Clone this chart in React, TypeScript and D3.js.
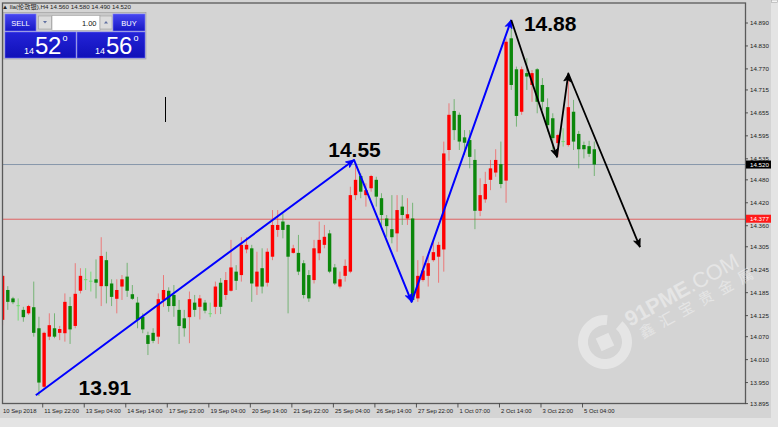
import React, { useEffect } from 'react';
import * as d3 from 'd3';

// ---- Data (London silver, H4) ----
const OPEN = [14.114,14.192,14.170,14.151,14.140,14.131,14.147,14.092,13.939,14.070,14.092,14.080,14.079,14.150,14.098,14.190,14.219,14.215,14.220,14.202,14.270,14.209,14.169,14.201,14.227,14.181,14.159,14.122,14.074,14.080,14.070,14.166,14.190,14.179,14.140,14.118,14.121,14.159,14.148,14.159,14.130,14.148,14.211,14.179,14.190,14.240,14.231,14.298,14.301,14.201,14.249,14.211,14.279,14.349,14.371,14.362,14.289,14.289,14.262,14.231,14.218,14.288,14.310,14.340,14.251,14.201,14.229,14.240,14.440,14.490,14.440,14.458,14.480,14.432,14.379,14.351,14.340,14.410,14.379,14.379,14.170,14.218,14.229,14.270,14.279,14.298,14.558,14.660,14.650,14.591,14.584,14.532,14.399,14.429,14.480,14.499,14.521,14.478,14.850,14.769,14.658,14.759,14.728,14.769,14.728,14.670,14.641,14.576,14.580,14.571,14.658,14.600,14.571,14.568,14.560];
const HIGH = [14.231,14.202,14.174,14.170,14.148,14.153,14.214,14.122,14.083,14.131,14.131,14.098,14.183,14.174,14.262,14.249,14.249,14.240,14.272,14.330,14.292,14.220,14.220,14.231,14.263,14.205,14.174,14.131,14.083,14.092,14.183,14.231,14.199,14.205,14.166,14.140,14.188,14.179,14.179,14.166,14.159,14.214,14.223,14.239,14.323,14.257,14.330,14.330,14.310,14.292,14.301,14.301,14.401,14.401,14.392,14.364,14.310,14.336,14.270,14.244,14.323,14.371,14.362,14.349,14.260,14.240,14.272,14.462,14.523,14.497,14.471,14.493,14.488,14.445,14.388,14.440,14.440,14.440,14.432,14.420,14.270,14.281,14.281,14.318,14.318,14.580,14.680,14.691,14.656,14.610,14.610,14.560,14.484,14.501,14.532,14.560,14.580,14.850,14.884,14.776,14.776,14.798,14.767,14.772,14.746,14.693,14.654,14.600,14.615,14.754,14.689,14.608,14.580,14.582,14.580];
const LOW = [14.100,14.140,14.155,14.112,14.109,14.127,14.070,13.915,13.935,14.061,14.066,14.061,14.057,14.051,14.092,14.183,14.192,14.188,14.170,14.150,14.157,14.150,14.131,14.166,14.174,14.166,14.092,14.079,14.022,14.053,14.051,14.148,14.135,14.122,14.051,14.070,14.053,14.122,14.115,14.131,14.121,14.129,14.129,14.166,14.188,14.192,14.214,14.288,14.161,14.179,14.183,14.201,14.270,14.331,14.327,14.131,14.287,14.231,14.170,14.161,14.209,14.270,14.301,14.236,14.205,14.196,14.214,14.236,14.427,14.432,14.410,14.449,14.410,14.353,14.331,14.314,14.292,14.362,14.362,14.161,14.161,14.214,14.201,14.266,14.211,14.240,14.530,14.584,14.558,14.545,14.510,14.351,14.385,14.420,14.453,14.488,14.458,14.420,14.715,14.619,14.650,14.715,14.684,14.654,14.663,14.606,14.558,14.540,14.567,14.567,14.558,14.510,14.536,14.540,14.490];
const CLOSE = [14.229,14.161,14.160,14.150,14.121,14.150,14.080,13.950,14.080,14.100,14.070,14.090,14.161,14.089,14.182,14.229,14.218,14.214,14.211,14.281,14.202,14.174,14.192,14.220,14.190,14.169,14.114,14.089,14.051,14.059,14.168,14.192,14.150,14.150,14.098,14.092,14.168,14.140,14.170,14.138,14.129,14.201,14.148,14.218,14.251,14.216,14.310,14.310,14.209,14.240,14.201,14.292,14.362,14.362,14.349,14.279,14.301,14.240,14.179,14.170,14.301,14.323,14.331,14.240,14.209,14.220,14.255,14.440,14.480,14.449,14.453,14.490,14.436,14.388,14.359,14.330,14.401,14.388,14.390,14.166,14.229,14.243,14.262,14.291,14.310,14.549,14.650,14.610,14.580,14.577,14.540,14.399,14.440,14.469,14.510,14.532,14.469,14.841,14.728,14.647,14.769,14.750,14.759,14.684,14.684,14.623,14.589,14.597,14.579,14.670,14.580,14.560,14.560,14.548,14.520];

const PRICE_LABELS = ['14.890','14.830','14.770','14.715','14.655','14.595','14.535','14.480','14.420','14.360','14.305','14.245','14.185','14.125','14.070','14.010','13.950','13.895'];
const TIME_LABELS = ['10 Sep 2018','11 Sep 22:00','13 Sep 04:00','14 Sep 14:00','17 Sep 23:00','19 Sep 04:00','20 Sep 14:00','21 Sep 22:00','25 Sep 04:00','26 Sep 14:00','27 Sep 22:00','1 Oct 07:00','2 Oct 14:00','3 Oct 22:00','5 Oct 04:00'];
const TIME_LABEL_BARS = [0,8,16,24,32,40,48,56,64,72,80,88,96,104,112];

const CURRENT_PRICE = 14.520;
const LEVEL_PRICE = 14.377;
const HEADER = '▲ lla(伦敦银),H4  14.560 14.580 14.490 14.520';

// annotation waves: [bar, price]
const BLUE_WAVE: [number, number][] = [[6.4, 13.917], [67.7, 14.532], [78.8, 14.161], [98.0, 14.898]];
const BLACK_WAVE: [number, number][] = [[98.0, 14.898], [106.8, 14.540], [109.0, 14.758], [122.8, 14.304]];
const WAVE_LABELS = [
  { text: '13.91', bar: 19.7, price: 13.918 },
  { text: '14.55', bar: 67.8, price: 14.539 },
  { text: '14.88', bar: 105.5, price: 14.870 },
];

const W = 778, H = 427;
const FL = 2.5, FR = 745.5, FT = 3, FB = 403.5;

function Arrow({ pts, color, sw }: { pts: [number, number][]; color: string; sw: number }) {
  const path = d3.line()(pts) as string;
  const heads = [] as JSX.Element[];
  for (let k = 1; k < pts.length; k++) {
    const [x0, y0] = pts[k - 1];
    const [x1, y1] = pts[k];
    const ang = Math.atan2(y1 - y0, x1 - x0) * 180 / Math.PI;
    heads.push(
      <path key={k} d="M0,0 L-8,-3.5 L-6,0 L-8,3.5 Z" fill={color} stroke={color} strokeWidth={0.8}
        transform={`translate(${x1},${y1}) rotate(${ang})`} />
    );
  }
  return (
    <g>
      <path d={path} fill="none" stroke={color} strokeWidth={sw} strokeLinejoin="round" />
      {heads}
    </g>
  );
}

export default function App() {
  useEffect(() => { document.body.style.margin = '0'; }, []);
  const n = OPEN.length;
  const x = d3.scaleLinear().domain([0, n - 1]).range([2.6, 594.3]);
  const y = d3.scaleLinear().domain([13.895, 14.890]).range([403.6, 23]);
  const bw = 3.4;
  const font = "'Liberation Sans', Arial, sans-serif";

  const candles = d3.range(n).map((i) => {
    const o = OPEN[i], c = CLOSE[i], h = HIGH[i], l = LOW[i];
    const cx = x(i);
    const doji = Math.abs(o - c) <= 0.0015;
    const up = c > o;
    const col = doji ? '#6fdc6f' : up ? '#ff0000' : '#0b870b';
    const wickCol = doji ? '#6fdc6f' : up ? '#ff3030' : '#2a9a2a';
    const top = y(Math.max(o, c)), bot = y(Math.min(o, c));
    return (
      <g key={i}>
        <line x1={cx} x2={cx} y1={y(h)} y2={y(l)} stroke={wickCol} strokeWidth={1} opacity={doji ? 0.9 : 0.55} />
        {doji ? (
          <line x1={cx - bw / 2} x2={cx + bw / 2} y1={y(o)} y2={y(o)} stroke={col} strokeWidth={1} />
        ) : (
          <rect x={cx - bw / 2} y={top} width={bw} height={Math.max(1, bot - top)} fill={col} />
        )}
      </g>
    );
  });

  const bluePts = BLUE_WAVE.map(([b, p]) => [x(b), y(p)] as [number, number]);
  const blackPts = BLACK_WAVE.map(([b, p]) => [x(b), y(p)] as [number, number]);

  return (
    <div style={{ position: 'absolute', left: 0, top: 0 }}>
      <svg width={W} height={H} style={{ display: 'block' }} fontFamily={font}>
        <defs>
          <clipPath id="plot"><rect x={FL} y={FT} width={FR - FL} height={FB - FT} /></clipPath>
          <linearGradient id="btn" x1="0" y1="0" x2="0" y2="1">
            <stop offset="0" stopColor="#4646f0" />
            <stop offset="1" stopColor="#1717c4" />
          </linearGradient>
          <linearGradient id="big" x1="0" y1="0" x2="0" y2="1">
            <stop offset="0" stopColor="#2424d8" />
            <stop offset="1" stopColor="#1010b8" />
          </linearGradient>
        </defs>
        <rect x={0} y={0} width={W} height={H} fill="#e4e4e4" />
        <rect x={0} y={0} width={771} height={418} fill="#d4d4d4" />
        <rect x={771.5} y={0} width={6} height={2.5} fill="#f4f4f4" stroke="#999" strokeWidth={0.5} />

        {/* horizontal levels */}
        <line x1={FL} x2={FR} y1={y(CURRENT_PRICE)} y2={y(CURRENT_PRICE)} stroke="#8797aa" strokeWidth={1} />
        <line x1={FL} x2={FR} y1={y(LEVEL_PRICE)} y2={y(LEVEL_PRICE)} stroke="#e06262" strokeWidth={1} />

        <g clipPath="url(#plot)">{candles}</g>

        {/* frame */}
        <rect x={FL} y={FT} width={FR - FL} height={FB - FT} fill="none" stroke="#5a5a5a" strokeWidth={1.3} />

        {/* price axis */}
        {PRICE_LABELS.map((t) => {
          const yy = y(+t);
          return (
            <g key={t}>
              <line x1={FR} x2={FR + 2.5} y1={yy} y2={yy} stroke="#333" strokeWidth={0.8} />
              <text x={750} y={yy + 2} fontSize={6.2} fill="#222">{t}</text>
            </g>
          );
        })}
        <rect x={FR + 0.5} y={y(CURRENT_PRICE) - 4} width={25} height={8} fill="#000" />
        <text x={750} y={y(CURRENT_PRICE) + 2.2} fontSize={6.2} fill="#fff">{CURRENT_PRICE.toFixed(3)}</text>
        <rect x={FR + 0.5} y={y(LEVEL_PRICE) - 4.5} width={25} height={8} fill="#ff1a1a" />
        <text x={750} y={y(LEVEL_PRICE) + 1.8} fontSize={6.2} fill="#fff">{LEVEL_PRICE.toFixed(3)}</text>

        {/* time axis */}
        {TIME_LABELS.map((t, k) => {
          const xx = x(TIME_LABEL_BARS[k]) - 1.4;
          return (
            <g key={t}>
              {k > 0 && <line x1={xx} x2={xx} y1={FB} y2={FB + 4} stroke="#333" strokeWidth={0.8} />}
              <text x={k === 0 ? 3 : xx + 1.6} y={413} fontSize={5.9} fill="#222">{t}</text>
            </g>
          );
        })}

        {/* header */}
        <text x={2} y={9} fontSize={6.2} fill="#222" fontFamily="'Liberation Sans', 'Noto Sans CJK SC', sans-serif">{HEADER}</text>

        {/* one-click trading panel */}
        <rect x={3.5} y={12.5} width={142.5} height={46.5} fill="#c9c9c9" stroke="#9a9a9a" strokeWidth={0.6} />
        <rect x={5} y={14} width={31} height={17} fill="url(#btn)" stroke="#7b7bff" strokeWidth={0.6} />
        <text x={20.5} y={25.5} fontSize={7.5} fill="#fff" textAnchor="middle">SELL</text>
        <rect x={38.5} y={16} width={13} height={13} fill="#dcdcdc" stroke="#a0a0a0" strokeWidth={0.6} />
        <path d="M43,21 L47,21 L45,23.5 Z" fill="#6070a0" />
        <rect x={52} y={15.5} width={48} height={15} fill="#ffffff" stroke="#a0a0a0" strokeWidth={0.6} />
        <text x={96.5} y={26} fontSize={7.5} fill="#111" textAnchor="end">1.00</text>
        <rect x={100} y={16} width={12} height={13} fill="#dcdcdc" stroke="#a0a0a0" strokeWidth={0.6} />
        <path d="M104,23.5 L108,23.5 L106,21 Z" fill="#6070a0" />
        <rect x={113} y={14} width={32} height={17} fill="url(#btn)" stroke="#7b7bff" strokeWidth={0.6} />
        <text x={129} y={25.5} fontSize={7.5} fill="#fff" textAnchor="middle">BUY</text>
        <rect x={5} y={32} width={71} height={26} fill="url(#big)" stroke="#6a6aff" strokeWidth={0.6} />
        <rect x={77} y={32} width={68} height={26} fill="url(#big)" stroke="#6a6aff" strokeWidth={0.6} />
        <text x={24} y={53.5} fontSize={9} fill="#fff">14</text>
        <text x={35} y={54} fontSize={24} fill="#fff" letterSpacing={-0.3}>52</text>
        <text x={62.5} y={41} fontSize={9} fill="#fff">o</text>
        <text x={95} y={53.5} fontSize={9} fill="#fff">14</text>
        <text x={106} y={54} fontSize={24} fill="#fff" letterSpacing={-0.3}>56</text>
        <text x={133.5} y={41} fontSize={9} fill="#fff">o</text>

        {/* cursor mark */}
        <line x1={165.5} x2={165.5} y1={97} y2={122} stroke="#000" strokeWidth={1} />

        {/* wave annotations */}
        <Arrow pts={bluePts} color="#0000ff" sw={2} />
        <Arrow pts={blackPts} color="#000000" sw={1.8} />
        {WAVE_LABELS.map((l) => (
          <text key={l.text} x={x(l.bar)} y={y(l.price)} fontSize={21} fontWeight="bold" fill="#000" textAnchor="middle">{l.text}</text>
        ))}

        {/* watermark */}
        <g fill="#ffffff" opacity={0.4}>
          <g transform="translate(605,342)">
            <path d={(d3.arc()({ innerRadius: 17, outerRadius: 27, startAngle: 0.35, endAngle: 2 * Math.PI - 0.25 } as any)) as string}
              transform="rotate(20)" />
            <rect x={-7} y={-7} width={14} height={14} transform="rotate(-25)" />
          </g>
          <text transform="translate(630,327) rotate(-29)" fontSize={21.5}>
            <tspan fontWeight="bold">91PME</tspan><tspan>.COM</tspan>
          </text>
          <text transform="translate(643,339) rotate(-29)" fontSize={15} letterSpacing={7.5}
            fontFamily="'Noto Sans CJK SC', sans-serif">鑫汇宝贵金属</text>
        </g>
      </svg>
    </div>
  );
}
